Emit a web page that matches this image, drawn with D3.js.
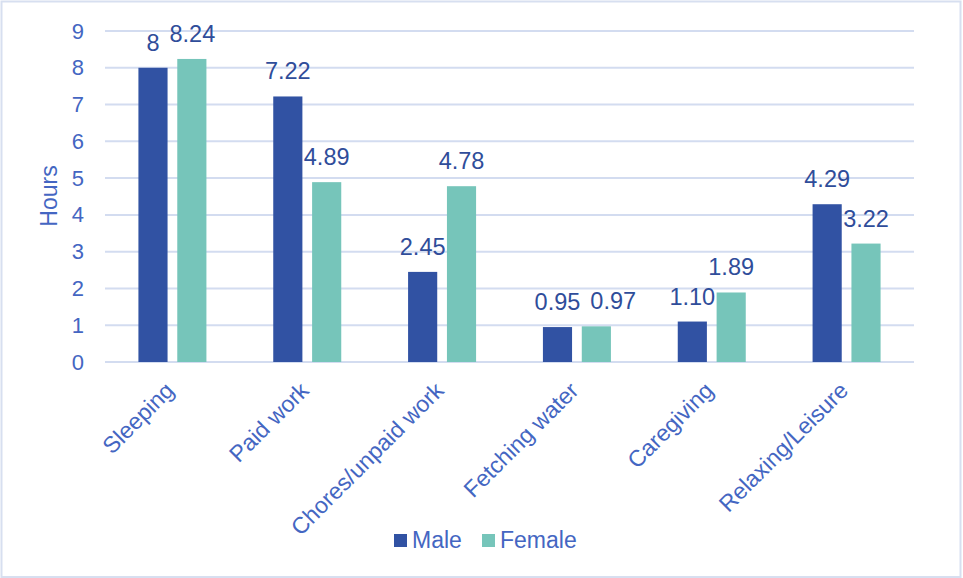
<!DOCTYPE html>
<html>
<head>
<meta charset="utf-8">
<script src="https://cdn.jsdelivr.net/npm/d3@7/dist/d3.min.js"></script>
<style>
  html, body { margin: 0; padding: 0; background: #ffffff; }
  svg { display: block; font-family: "Liberation Sans", Arial, sans-serif; }
</style>
</head>
<body>
<svg id="chart" width="963" height="578"></svg>
<script>
// Average hours per day spent on each activity, by sex
const categories = ["Sleeping", "Paid work", "Chores/unpaid work", "Fetching water", "Caregiving", "Relaxing/Leisure"];
const series = ["Male", "Female"];
const maleHours = [8, 7.22, 2.45, 0.95, 1.10, 4.29];
const femaleHours = [8.24, 4.89, 4.78, 0.97, 1.89, 3.22];
const maleLabels = ["8", "7.22", "2.45", "0.95", "1.10", "4.29"];
const femaleLabels = ["8.24", "4.89", "4.78", "0.97", "1.89", "3.22"];
const yTicks = [0, 1, 2, 3, 4, 5, 6, 7, 8, 9];

const colors = { Male: "#3152a3", Female: "#76c5ba" };
const tickColor = "#4466c2";
const labelColor = "#2f4d9a";
const gridColor = "#d3dcf0";

const svg = d3.select("#chart");
const W = 963, H = 578;
const plot = { left: 105, right: 914, top: 31, bottom: 362 };

// chart frame
svg.append("rect")
  .attr("x", 1.5).attr("y", 1.5)
  .attr("width", W - 4).attr("height", H - 2.5)
  .attr("fill", "#fff").attr("stroke", "#d7dff0").attr("stroke-width", 2);

const x = d3.scaleBand().domain(categories).range([plot.left, plot.right]).paddingInner(0).paddingOuter(0);
const xInner = d3.scaleBand().domain(series).range([0, 68]).paddingInner(0.25);
const y = d3.scaleLinear().domain([0, 9]).range([plot.bottom, plot.top]);

// horizontal gridlines
svg.append("g").selectAll("line").data(yTicks).join("line")
  .attr("x1", plot.left).attr("x2", plot.right)
  .attr("y1", d => y(d)).attr("y2", d => y(d))
  .attr("stroke", gridColor).attr("stroke-width", 2);

// y axis tick labels
const yAxis = d3.axisLeft(y).tickValues(yTicks).tickSize(0).tickPadding(0).tickFormat(d3.format("d"));
const gy = svg.append("g").attr("transform", `translate(84,0)`).call(yAxis);
gy.select(".domain").remove();
gy.selectAll("text").attr("fill", tickColor).attr("font-size", 22)
  .attr("font-family", "Liberation Sans, Arial, sans-serif");

// y axis title
svg.append("text")
  .attr("transform", "translate(57,196) rotate(-90)")
  .attr("text-anchor", "middle")
  .attr("fill", tickColor).attr("font-size", 23)
  .text("Hours");

// bars
const rows = categories.map((c, i) => ({
  cat: c,
  vals: [
    { s: "Male", v: maleHours[i], label: maleLabels[i] },
    { s: "Female", v: femaleHours[i], label: femaleLabels[i] }
  ]
}));

const groups = svg.append("g").selectAll("g").data(rows).join("g")
  .attr("transform", d => `translate(${x(d.cat) + x.bandwidth() / 2 - 34},0)`);

groups.selectAll("rect").data(d => d.vals).join("rect")
  .attr("x", d => xInner(d.s))
  .attr("width", xInner.bandwidth())
  .attr("y", d => y(d.v))
  .attr("height", d => y(0) - y(d.v))
  .attr("fill", d => colors[d.s]);

// value labels above bars
groups.selectAll("text").data(d => d.vals).join("text")
  .attr("x", d => xInner(d.s) + xInner.bandwidth() / 2)
  .attr("y", d => y(d.v) - 17)
  .attr("text-anchor", "middle")
  .attr("fill", labelColor).attr("font-size", 23.5)
  .text(d => d.label);

// nudge the second label of a pair to the right when the two collide
groups.each(function () {
  const labels = d3.select(this).selectAll("text").nodes();
  if (labels.length < 2) return;
  const a = labels[0].getBBox(), b = labels[1].getBBox();
  const overlapY = a.y < b.y + b.height - 4 && b.y < a.y + a.height - 4;
  const gap = 10;
  if (overlapY && b.x < a.x + a.width + gap) {
    const shift = a.x + a.width + gap - b.x;
    const cur = +labels[1].getAttribute("x");
    labels[1].setAttribute("x", cur + shift);
  }
});

// category labels, rotated
svg.append("g").selectAll("text").data(categories).join("text")
  .attr("transform", d => `translate(${x(d) + x.bandwidth() / 2 + 3},392) rotate(-45)`)
  .attr("text-anchor", "end")
  .attr("fill", tickColor).attr("font-size", 23)
  .text(d => d);

// legend
const legend = svg.append("g").attr("transform", "translate(394,534)");
const legItems = [{ s: "Male", x: 0 }, { s: "Female", x: 88 }];
const li = legend.selectAll("g").data(legItems).join("g")
  .attr("transform", d => `translate(${d.x},0)`);
li.append("rect").attr("width", 13).attr("height", 13).attr("fill", d => colors[d.s]);
li.append("text").attr("x", 18).attr("y", 14)
  .attr("fill", tickColor).attr("font-size", 23)
  .text(d => d.s);
</script>
</body>
</html>
